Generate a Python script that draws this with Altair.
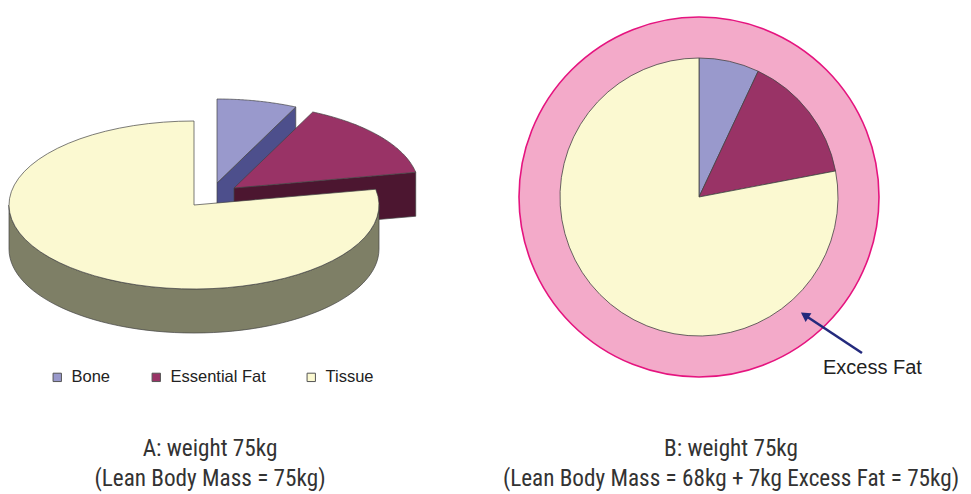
import altair as alt
import pandas as pd

# ---------------- data ----------------
names = ["Bone", "Essential Fat", "Tissue"]
share_a = [7, 15, 78]          # % of body, panel A
share_b = [7, 15, 78]          # % of lean body mass, panel B
title_a = ["A: weight 75kg", "(Lean Body Mass = 75kg)"]
title_b = ["B: weight 75kg", "(Lean Body Mass = 68kg + 7kg Excess Fat = 75kg)"]
ring_label = ["Excess Fat"]

# ---------------- styles / layout ----------------
TOP = ["#9999cc", "#993366", "#fbf9d1"]
SIDE = ["#4d4f8c", "#4c1630", "#7e7f66"]
EXPLODE = {"Bone": (23, -22), "Essential Fat": (40, -17), "Tissue": (0, 0)}
CX, CY, RA, RB, DEPTH = 194, 205, 185, 84, 44     # 3-D pie geometry (page px)
BX, BY, BR, RING = 699, 197, 139, 180             # pie B geometry (page px)
EDGE = "#444444"
NSTEP = 60
W, H = 955, 485

xs = alt.Scale(domain=[8, 8 + W], nice=False, zero=False)
ys = alt.Scale(domain=[8, 8 + H], nice=False, zero=False, reverse=True)

dfA = pd.DataFrame({
    "name": names, "value": share_a, "idx": list(range(len(names))),
    "ox": [EXPLODE[n][0] for n in names], "oy": [EXPLODE[n][1] for n in names],
})
dfB = pd.DataFrame({"name": names, "value": share_b, "idx": list(range(len(names)))})


def with_steps(n):
    return dfA.merge(pd.DataFrame({"k": list(range(n))}), how="cross")


X = alt.X("px:Q", scale=xs, axis=None)


def angles(ch):
    return (ch.transform_joinaggregate(total="sum(value)", groupby=["k"])
              .transform_window(cum="sum(value)", sort=[alt.SortField("idx")],
                                groupby=["k"], frame=[None, 0])
              .transform_calculate(a0="(datum.cum - datum.value) / datum.total * 2 * PI",
                                   a1="datum.cum / datum.total * 2 * PI"))


layers = []
for i, n in enumerate(names):
    cut = (angles(alt.Chart(with_steps(5)))
           .transform_filter(alt.datum.name == n)
           .transform_filter("sin(datum.a1) > 0.01")
           .transform_calculate(
               rim="(datum.k == 1 || datum.k == 2) ? 1 : 0",
               low=f"(datum.k == 2 || datum.k == 3) ? {DEPTH} : 0")
           .transform_calculate(
               px=f"{CX} + datum.ox + datum.rim * {RA} * sin(datum.a1)",
               py=f"{CY} + datum.oy - datum.rim * {RB} * cos(datum.a1) + datum.low")
           .mark_line(stroke=EDGE, strokeWidth=0.7, fill=SIDE[i])
           .encode(x=X, y=alt.Y("py:Q", scale=ys, axis=None), order="k:Q"))
    wall = (angles(alt.Chart(with_steps(NSTEP + 1)))
            .transform_filter(alt.datum.name == n)
            .transform_calculate(lo="max(datum.a0, PI / 2)", hi="min(datum.a1, 3 * PI / 2)")
            .transform_filter("datum.hi > datum.lo")
            .transform_calculate(ang=f"datum.lo + (datum.hi - datum.lo) * datum.k / {NSTEP}")
            .transform_calculate(
                px=f"{CX} + datum.ox + {RA} * sin(datum.ang)",
                pyt=f"{CY} + datum.oy - {RB} * cos(datum.ang)",
                pyb=f"{CY} + datum.oy - {RB} * cos(datum.ang) + {DEPTH}")
            .mark_area(stroke=EDGE, strokeWidth=0.7, fill=SIDE[i])
            .encode(x=X, y=alt.Y("pyt:Q", scale=ys, axis=None), y2="pyb:Q"))
    top = (angles(alt.Chart(with_steps(NSTEP + 2)))
           .transform_filter(alt.datum.name == n)
           .transform_calculate(
               ang=f"datum.a0 + (datum.a1 - datum.a0) * clamp(datum.k - 1, 0, {NSTEP - 1}) / {NSTEP - 1}",
               rim=f"(datum.k > 0 && datum.k < {NSTEP + 1}) ? 1 : 0")
           .transform_calculate(
               px=f"{CX} + datum.ox + datum.rim * {RA} * sin(datum.ang)",
               py=f"{CY} + datum.oy - datum.rim * {RB} * cos(datum.ang)")
           .mark_line(stroke=EDGE, strokeWidth=0.7, fill=TOP[i])
           .encode(x=X, y=alt.Y("py:Q", scale=ys, axis=None), order="k:Q"))
    layers += [cut, wall, top]

# ---------------- panel B ----------------
ring = (alt.Chart(pd.DataFrame({"v": [sum(share_b)]}))
        .mark_arc(radius=RING, fill="#f3aac9", stroke="#e5147f", strokeWidth=1.6)
        .encode(theta=alt.Theta("v:Q"), x=alt.value(BX - 8), y=alt.value(BY - 8)))
pie = (alt.Chart(dfB)
       .mark_arc(radius=BR, stroke=EDGE, strokeWidth=0.8)
       .encode(theta=alt.Theta("value:Q", stack=True),
               order=alt.Order("idx:Q"),
               fill=alt.Fill("name:N", scale=alt.Scale(domain=names, range=TOP),
                             legend=alt.Legend(
                                 orient="none", legendX=41, legendY=361,
                                 direction="horizontal", title=None,
                                 symbolType="square", symbolSize=70,
                                 symbolStrokeColor="#555555", symbolStrokeWidth=1,
                                 labelFont="Liberation Sans", labelFontSize=16.5,
                                 labelColor="#222222", labelOffset=6,
                                 columnPadding=37)),
               x=alt.value(BX - 8), y=alt.value(BY - 8)))

arrow_df = pd.DataFrame({"px": [862, 803], "py": [353, 314]})
arrow = (alt.Chart(arrow_df).mark_line(color="#232a7d", strokeWidth=2.6)
         .encode(x=X, y=alt.Y("py:Q", scale=ys, axis=None)))
head = (alt.Chart(pd.DataFrame({"px": [806], "py": [316]}))
        .mark_point(shape="triangle", filled=True, size=110, angle=304,
                    color="#232a7d", opacity=1)
        .encode(x=X, y=alt.Y("py:Q", scale=ys, axis=None)))

lab = (alt.Chart(pd.DataFrame({"t": ring_label, "px": [823], "py": [374]}))
       .mark_text(align="left", baseline="alphabetic", font="Liberation Sans",
                  fontSize=20, color="#222222")
       .encode(x=X, y=alt.Y("py:Q", scale=ys, axis=None), text="t:N"))

titles = pd.DataFrame({
    "t": title_a + title_b,
    "px": [210, 210, 731, 731],
    "py": [456, 486, 456, 486],
})
ttl = (alt.Chart(titles)
       .mark_text(align="center", baseline="alphabetic",
                  font="Roboto Condensed",
                  fontSize=23.2, color="#333333")
       .encode(x=X, y=alt.Y("py:Q", scale=ys, axis=None), text="t:N"))

chart = (alt.layer(*layers, ring, pie, arrow, head, lab, ttl)
         .properties(width=W, height=H, padding=0,
                     autosize=alt.AutoSizeParams(type="none"))
         .configure_view(stroke=None))

chart.save("out.html", embed_options={"renderer": "svg", "actions": False})
